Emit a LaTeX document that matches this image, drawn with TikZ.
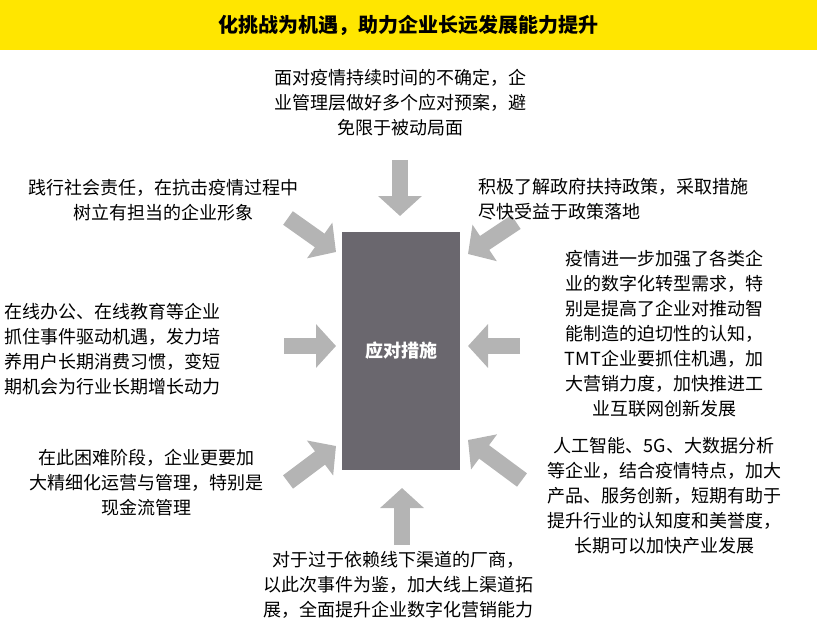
\documentclass[tikz,border=0pt]{standalone}
\usepackage{fontspec}
\setmainfont{Noto Sans CJK SC}
\usetikzlibrary{arrows.meta}
\definecolor{ey}{HTML}{FFE600}
\definecolor{boxg}{HTML}{6A676E}
\definecolor{arrg}{HTML}{B4B4B4}
\begin{document}
\begin{tikzpicture}[x=0.75pt,y=-0.75pt,
  txt/.style={font=\fontsize{13.5pt}{18.75pt}\selectfont,inner sep=0pt,text=black},
  bar/.style={draw=arrg,line width=12.5pt,-{Triangle[length=15pt,width=32pt]}}]
\useasboundingbox (0,0) rectangle (817,638);
\fill[ey] (0,0) rectangle (817,50);
\coordinate (a1) at (400,160); \coordinate (a1e) at (400,216);
\coordinate (a2) at (288,218); \coordinate (a2e) at (336,252);
\coordinate (a3) at (516,222); \coordinate (a3e) at (468,254);
\coordinate (a4) at (284,346); \coordinate (a4e) at (336,346);
\coordinate (a5) at (520,346); \coordinate (a5e) at (468,346);
\coordinate (a6) at (288,482); \coordinate (a6e) at (336,446);
\coordinate (a7) at (522,480); \coordinate (a7e) at (468,440);
\coordinate (a8) at (402,545); \coordinate (a8e) at (402,488);
\foreach \s/\e in {a1/a1e,a2/a2e,a3/a3e,a4/a4e,a5/a5e,a6/a6e,a7/a7e,a8/a8e}
  \draw[bar] (\s) -- (\e);
\node[font=\fontsize{15pt}{18pt}\selectfont\bfseries] (title) at (408,25) {化挑战为机遇，助力企业长远发展能力提升};
\node[fill=boxg,minimum width=88.5pt,minimum height=178.5pt,inner sep=0pt,text=white,font=\fontsize{13.5pt}{16pt}\selectfont\bfseries] (c) at (401,351) {应对措施};
\node[txt,align=center] (t) at (400,103) {面对疫情持续时间的不确定，企\\业管理层做好多个应对预案，避\\免限于被动局面};
\node[txt,align=center] (tl) at (163,200) {践行社会责任，在抗击疫情过程中\\树立有担当的企业形象};
\node[txt,align=left,anchor=west] (tr) at (478,199) {积极了解政府扶持政策，采取措施\\尽快受益于政策落地};
\node[txt,align=center] (r) at (664,334) {疫情进一步加强了各类企\\业的数字化转型需求，特\\别是提高了企业对推动智\\能制造的迫切性的认知，\\TMT企业要抓住机遇，加\\大营销力度，加快推进工\\业互联网创新发展};
\node[txt,align=left,anchor=west] (l) at (4,349) {在线办公、在线教育等企业\\抓住事件驱动机遇，发力培\\养用户长期消费习惯，变短\\期机会为行业长期增长动力};
\node[txt,align=center] (bl) at (146,483) {在此困难阶段，企业更要加\\大精细化运营与管理，特别是\\现金流管理};
\node[txt,align=center] (br) at (664,496) {人工智能、5G、大数据分析\\等企业，结合疫情特点，加大\\产品、服务创新，短期有助于\\提升行业的认知度和美誉度，\\长期可以加快产业发展};
\node[txt,align=center] (b) at (398,585) {对于过于依赖线下渠道的厂商，\\以此次事件为鉴，加大线上渠道拓\\展，全面提升企业数字化营销能力};
\end{tikzpicture}
\end{document}
